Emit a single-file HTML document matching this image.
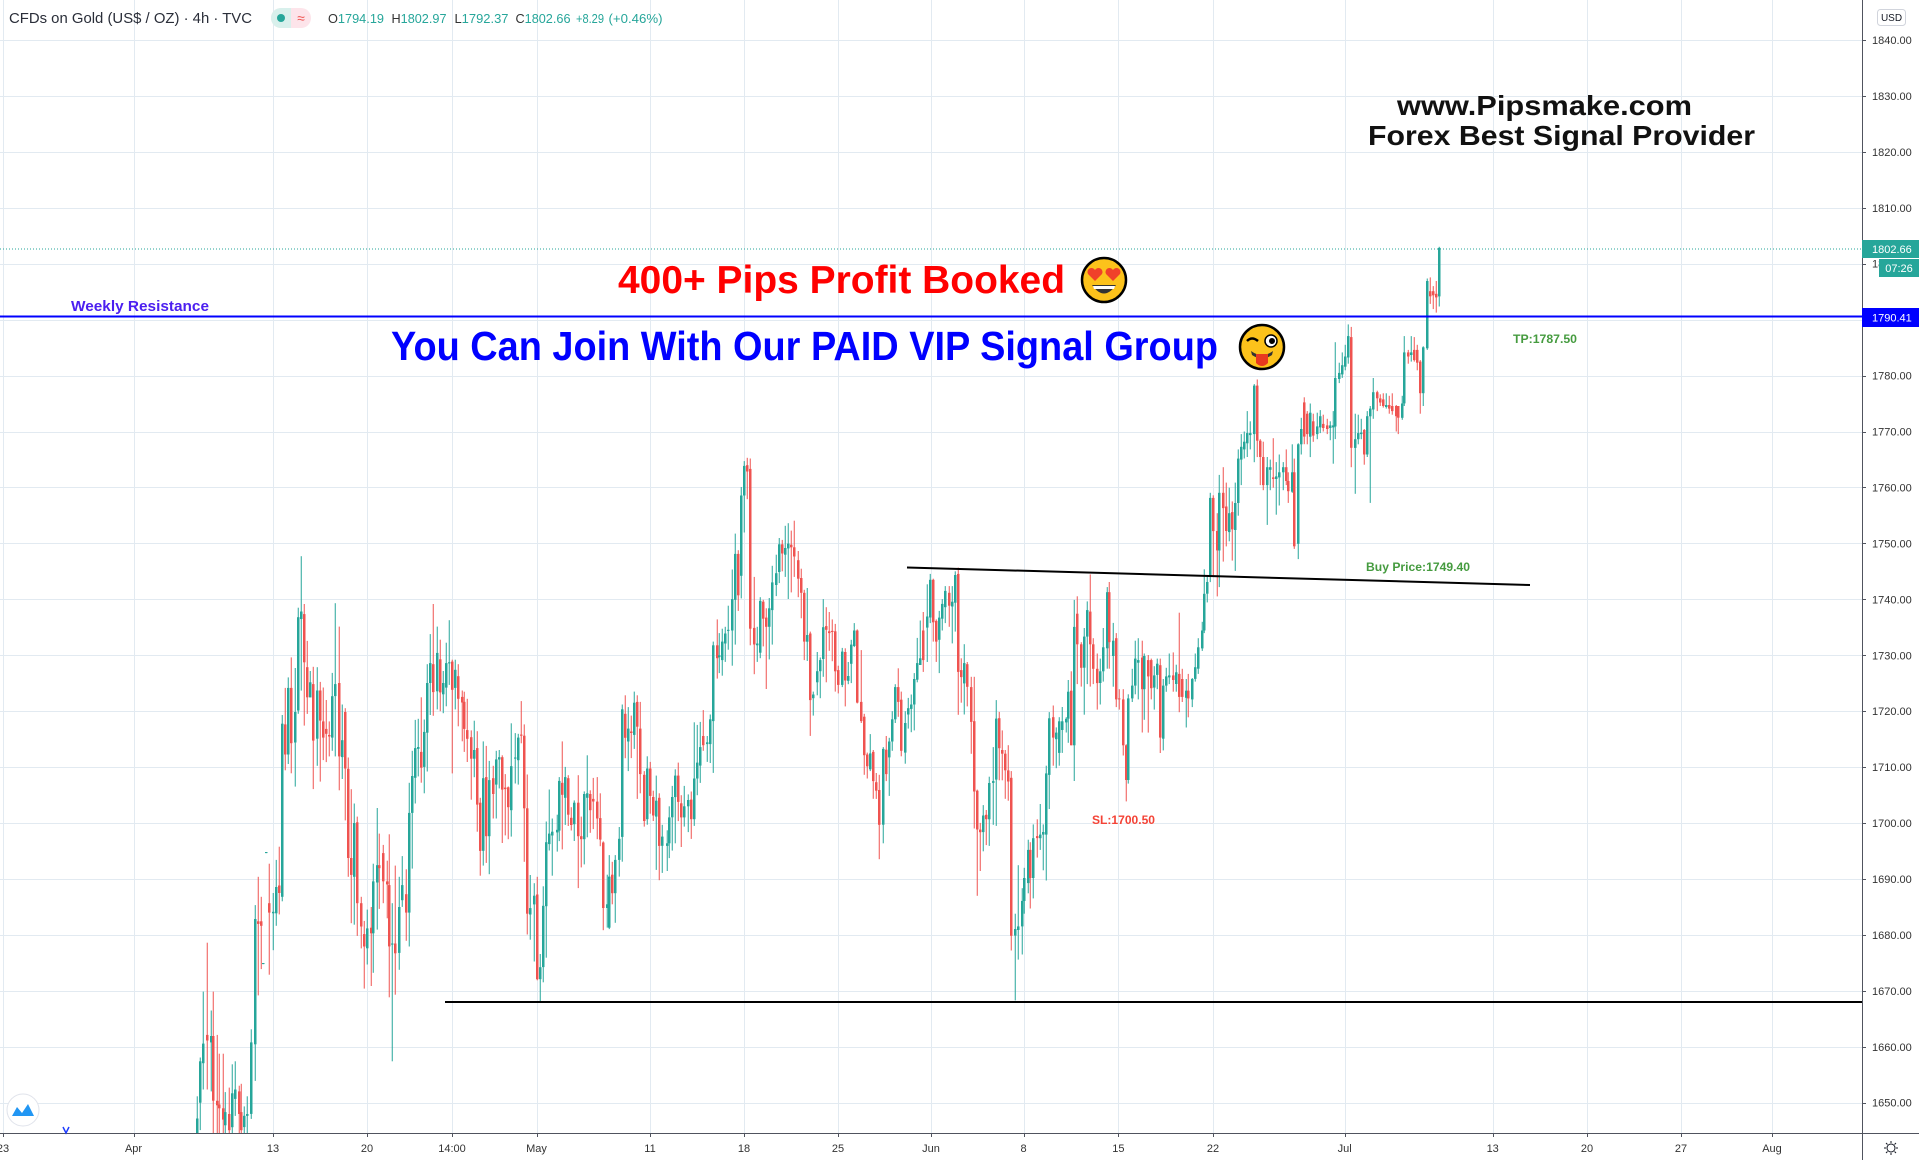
<!DOCTYPE html>
<html><head><meta charset="utf-8">
<style>
html,body{margin:0;padding:0;background:#fff;}
body{width:1919px;height:1160px;overflow:hidden;}
svg{display:block;}
text{font-family:"Liberation Sans",Arial,sans-serif;}
</style></head>
<body>
<svg id="chart" width="1919" height="1160" viewBox="0 0 1919 1160">
<rect x="0" y="0" width="1919" height="1160" fill="#fff"/>
<g id="grid" stroke="#e2eaf1" stroke-width="1"></g>
<defs><clipPath id="pane"><rect x="0" y="0" width="1862" height="1133"/></clipPath></defs>
<g id="candles" clip-path="url(#pane)"></g>

<!-- lines -->
<line x1="0" y1="249" x2="1862" y2="249" stroke="#26a69a" stroke-width="1" stroke-dasharray="1,2"/>
<line x1="0" y1="316.5" x2="1862" y2="316.5" stroke="#0000ff" stroke-width="2"/>
<line x1="445" y1="1002" x2="1862" y2="1002" stroke="#000" stroke-width="2"/>
<line x1="907" y1="567.5" x2="1530" y2="585" stroke="#000" stroke-width="2"/>

<!-- overlay texts -->
<text x="71" y="311" font-size="15" font-weight="bold" fill="#4c1ff0" textLength="138" lengthAdjust="spacingAndGlyphs">Weekly Resistance</text>
<text x="618" y="293" font-size="39" font-weight="bold" fill="#ff0000" textLength="447" lengthAdjust="spacingAndGlyphs">400+ Pips Profit Booked</text>
<text x="391" y="360" font-size="41" font-weight="bold" fill="#0000ff" textLength="827" lengthAdjust="spacingAndGlyphs">You Can Join With Our PAID VIP Signal Group</text>
<text x="1397" y="115" font-size="28" font-weight="bold" fill="#111" textLength="295" lengthAdjust="spacingAndGlyphs">www.Pipsmake.com</text>
<text x="1368" y="145" font-size="28" font-weight="bold" fill="#111" textLength="387" lengthAdjust="spacingAndGlyphs">Forex Best Signal Provider</text>
<text x="1513" y="343" font-size="12" font-weight="bold" fill="#459b3f" textLength="64" lengthAdjust="spacingAndGlyphs">TP:1787.50</text>
<text x="1366" y="571" font-size="12" font-weight="bold" fill="#459b3f" textLength="104" lengthAdjust="spacingAndGlyphs">Buy Price:1749.40</text>
<text x="1092" y="824" font-size="12" font-weight="bold" fill="#f44336" textLength="63" lengthAdjust="spacingAndGlyphs">SL:1700.50</text>

<!-- emoji heart eyes -->
<g transform="translate(1104,280)">
<circle r="22" fill="#fcc21b" stroke="#000" stroke-width="2.5"/>
<path d="M-9,1 L-16,-6 A3.8,3.8 0 0 1 -9,-10 A3.8,3.8 0 0 1 -2,-6 Z" fill="#f0412a"/>
<path d="M9,1 L2,-6 A3.8,3.8 0 0 1 9,-10 A3.8,3.8 0 0 1 16,-6 Z" fill="#f0412a"/>
<path d="M-12,5 Q0,22 12,5 Z" fill="#333"/>
<path d="M-11,6 L11,6 L10,9 L-10,9 Z" fill="#fff"/>
</g>
<!-- emoji wink tongue -->
<g transform="translate(1262,347)">
<circle r="22" fill="#fcc21b" stroke="#000" stroke-width="2.5"/>
<path d="M-15,-6 Q-10,-11 -4,-6" fill="none" stroke="#000" stroke-width="2.5"/>
<circle cx="9" cy="-6" r="6" fill="#fff" stroke="#000" stroke-width="1.5"/>
<circle cx="10" cy="-6" r="3" fill="#000"/>
<path d="M-11,4 Q0,12 11,4 L10,8 Q0,15 -10,8 Z" fill="#333"/>
<path d="M-6,7 L6,7 L6,16 Q0,22 -6,16 Z" fill="#e8391f"/>
</g>

<!-- header -->
<text x="9" y="23" font-size="14.5" fill="#2a2e39" textLength="243" lengthAdjust="spacingAndGlyphs">CFDs on Gold (US$ / OZ) · 4h · TVC</text>
<rect x="271" y="8" width="40" height="20" rx="10" fill="#fde4ea"/>
<path d="M281,8 L291,8 L291,28 L281,28 A10,10 0 0 1 281,8 Z" fill="#d8f0ec"/>
<circle cx="281" cy="18" r="4" fill="#26a69a"/>
<text x="301" y="23" font-size="14" fill="#ef5350" text-anchor="middle">≈</text>
<g font-size="12.5">
<text x="328" y="23" fill="#26a69a" textLength="56" lengthAdjust="spacingAndGlyphs"><tspan fill="#333">O</tspan>1794.19</text>
<text x="391.5" y="23" fill="#26a69a" textLength="55" lengthAdjust="spacingAndGlyphs"><tspan fill="#333">H</tspan>1802.97</text>
<text x="454.5" y="23" fill="#26a69a" textLength="54" lengthAdjust="spacingAndGlyphs"><tspan fill="#333">L</tspan>1792.37</text>
<text x="515.5" y="23" fill="#26a69a" textLength="55" lengthAdjust="spacingAndGlyphs"><tspan fill="#333">C</tspan>1802.66</text>
<text x="576" y="23" fill="#26a69a" textLength="28" lengthAdjust="spacingAndGlyphs">+8.29</text>
<text x="608.5" y="23" fill="#26a69a" textLength="54" lengthAdjust="spacingAndGlyphs">(+0.46%)</text>
</g>

<!-- axes -->
<rect x="1863" y="0" width="56" height="1160" fill="#fff"/>
<rect x="0" y="1134" width="1862" height="26" fill="#fff"/>
<line x1="1862.5" y1="0" x2="1862.5" y2="1160" stroke="#50535e" stroke-width="1"/>
<line x1="0" y1="1133.5" x2="1919" y2="1133.5" stroke="#50535e" stroke-width="1"/>
<g id="paxis"></g>
<g id="taxis"></g>

<!-- price tags -->
<rect x="1862" y="240" width="57" height="18" fill="#26a69a"/>
<text x="1872" y="253" font-size="11" fill="#fff">1802.66</text>
<rect x="1879" y="259" width="40" height="18" fill="#26a69a"/>
<text x="1899" y="272" font-size="11" fill="#fff" text-anchor="middle">07:26</text>
<rect x="1862" y="308" width="57" height="19" fill="#0000ff"/>
<text x="1872" y="321.5" font-size="11" fill="#fff">1790.41</text>

<!-- USD box -->
<rect x="1877.5" y="9.5" width="28" height="16" rx="3" fill="#fff" stroke="#d1d4dc"/>
<text x="1891.5" y="21" font-size="10" fill="#131722" text-anchor="middle">USD</text>

<!-- gear -->
<g transform="translate(1891,1148)" stroke="#131722" stroke-width="1" fill="none">
<circle r="4"/>
<line x1="0" y1="-7" x2="0" y2="-5"/><line x1="0" y1="5" x2="0" y2="7"/>
<line x1="-7" y1="0" x2="-5" y2="0"/><line x1="5" y1="0" x2="7" y2="0"/>
<line x1="-5" y1="-5" x2="-3.5" y2="-3.5"/><line x1="3.5" y1="3.5" x2="5" y2="5"/>
<line x1="5" y1="-5" x2="3.5" y2="-3.5"/><line x1="-3.5" y1="3.5" x2="-5" y2="5"/>
</g>

<!-- bottom-left icon -->
<circle cx="23" cy="1110" r="16" fill="#fff" stroke="#e0e3eb"/>
<path d="M12,1116 L17,1107 L22,1113 L28,1104 L34,1116 Z" fill="#2196f3"/>
<path d="M63,1127 L66,1133 L69,1127" fill="none" stroke="#1e3cff" stroke-width="1.5"/>
</svg>

<script>
(function(){
var grid=[],i,y,x;
for(i=0;i<=19;i++){y=40+i*55.933;grid.push('<line x1="0" y1="'+(Math.round(y)+0.5)+'" x2="1862" y2="'+(Math.round(y)+0.5)+'"/>');}
var T=[[3,'23'],[133.5,'Apr'],[273,'13'],[367,'20'],[452,'14:00'],[536.5,'May'],[650,'11'],[744,'18'],[838,'25'],[931,'Jun'],[1023.6,'8'],[1118.4,'15'],[1213,'22'],[1344.7,'Jul'],[1492.7,'13'],[1587,'20'],[1681,'27'],[1772,'Aug']];
T.forEach(function(t){x=Math.round(t[0])+0.5;grid.push('<line x1="'+x+'" y1="0" x2="'+x+'" y2="1133"/>');});
document.getElementById('grid').innerHTML=grid.join('');

var p=[];
for(i=0;i<=19;i++){var pr=1840-i*10;y=40+i*55.933;
p.push('<line x1="1862" y1="'+(Math.round(y)+0.5)+'" x2="1866" y2="'+(Math.round(y)+0.5)+'" stroke="#50535e"/>');
p.push('<text x="1872" y="'+(y+4).toFixed(1)+'" font-size="11" fill="#333">'+pr+'.00</text>');}
document.getElementById('paxis').innerHTML=p.join('');
var t=[];
T.forEach(function(a){x=Math.round(a[0])+0.5;
t.push('<line x1="'+x+'" y1="1133" x2="'+x+'" y2="1137" stroke="#50535e"/>');
t.push('<text x="'+a[0]+'" y="1152" font-size="11" fill="#333" text-anchor="middle">'+a[1]+'</text>');});
document.getElementById('taxis').innerHTML=t.join('');

var A=[[50,1537,1580,1478,1580,1],[60,1385,1495,1375,1568,1],[70,1338,1390,1200,1460,1],[82,1315,1330,1070,1460,0],[92,1318,1335,1250,1465,1],[100,1318,1490,1200,1580,0],[110,1490,1502,1315,1580,0],[118,1500,1510,1365,1580,0],[128,1510,1540,1365,1580,0],[136,1520,1555,1467,1580,1],[148,1525,1568,1455,1580,0],[156,1470,1560,1393,1580,1],[166,1460,1485,1385,1530,1],[176,1465,1525,1450,1580,0],[184,1520,1568,1445,1580,0],[192,1530,1560,1505,1580,1],[202,1525,1530,1478,1580,1],[214,1335,1525,1300,1538,1],[224,1007,1340,970,1437,1],[234,1013,1020,895,1210,0],[242,1013,1025,948,1140,0],[250,1124,1127,1124,1127,1],[258,829,832,829,832,1],[268,965,990,860,1155,0],[280,988,992,938,1090,1],[288,922,992,850,1025,1],[298,918,938,815,995,0],[307,488,948,465,960,1],[316,490,570,393,612,0],[325,393,570,365,595,1],[334,393,540,312,620,0],[346,457,538,340,655,1],[355,205,453,180,462,1],[364,190,210,43,400,1],[373,197,325,170,493,0],[382,338,418,268,462,0],[391,378,418,348,398,1],[400,383,533,337,662,0],[410,400,528,338,600,1],[420,400,480,377,642,0],[430,482,525,392,585,0],[438,502,515,425,590,0],[448,518,522,482,575,0],[457,415,525,353,560,1],[466,383,415,168,575,1],[478,380,575,230,665,0],[487,532,577,437,635,1],[496,457,607,447,745,0],[505,608,845,578,895,0],[514,845,890,662,1018,0],[523,752,895,700,1022,1],[532,750,965,735,1052,0],[544,965,1027,948,1085,0],[553,1047,1080,1012,1192,0],[562,1032,1085,982,1128,1],[572,1030,1045,975,1185,0],[580,907,1045,860,1150,1],[590,864,910,712,1035,1],[598,864,872,780,980,0],[610,832,907,810,965,0],[620,907,915,852,1005,0],[628,917,1080,782,1215,0],[637,1072,1075,965,1385,1],[646,1072,1098,865,1208,0],[656,975,1097,895,1142,1],[665,917,957,840,975,1],[677,941,990,875,1065,0],[686,725,990,645,1080,1],[695,627,725,560,873,1],[704,553,632,478,700,1],[713,550,555,475,628,1],[722,563,605,418,645,0],[731,510,603,477,673,1],[742,380,512,330,615,1],[751,327,380,250,465,1],[760,330,404,170,467,0],[770,300,402,230,450,1],[779,317,405,265,455,0],[788,380,410,348,460,1],[797,327,392,273,442,1],[808,325,328,213,385,1],[817,323,398,318,620,0],[826,345,393,318,450,1],[835,362,422,330,495,0],[845,417,432,400,535,0],[853,430,502,403,563,0],[862,505,528,422,590,0],[874,524,581,506,690,0],[883,558,581,480,630,1],[892,553,703,508,775,0],[901,698,826,685,892,0],[910,633,826,535,865,1],[919,630,787,547,858,0],[928,638,787,587,888,1],[940,633,675,600,740,0],[949,583,650,560,740,1],[958,577,583,558,660,1],[967,577,663,572,805,0],[976,658,662,622,785,0],[985,657,710,655,795,0],[994,601,718,487,788,1],[1006,578,581,513,647,1],[1015,525,585,515,650,1],[1024,517,520,428,540,0],[1033,520,713,490,855,0],[1042,713,993,623,1048,0],[1051,978,995,890,1062,1],[1062,945,968,912,1120,1],[1072,942,1167,895,1170,0],[1081,1135,1167,1100,1227,1],[1090,972,1135,920,1175,1],[1099,803,973,748,1110,1],[1108,780,808,663,825,1],[1117,775,785,740,892,1],[1130,770,777,730,828,1],[1138,640,772,630,800,1],[1147,645,677,535,822,0],[1156,630,685,603,757,1],[1165,633,730,625,760,0],[1174,738,757,710,772,0],[1183,698,755,692,800,1],[1195,698,787,625,925,0],[1204,787,795,735,870,0],[1213,675,795,668,862,1],[1222,673,685,572,790,1],[1231,675,718,665,778,0],[1240,688,695,632,768,0],[1250,695,740,630,795,0]];
var B=[[120,1022,1080,955,1098,0],[130,1088,1265,1085,1325,0],[140,1255,1265,1175,1318,1],[148,1180,1318,1122,1322,1],[157,1175,1225,1140,1255,0],[166,1135,1225,1122,1305,1],[176,1078,1135,1046,1180,1],[186,728,1073,715,1140,1],[196,740,805,690,860,0],[205,780,815,722,895,1],[214,788,792,745,860,0],[223,710,797,680,835,1],[232,708,775,690,970,0],[241,780,903,708,955,0],[252,905,1030,895,1045,0],[262,888,1025,855,1040,1],[271,888,962,870,1010,0],[280,965,1015,948,1030,0],[289,975,1018,907,1162,1],[298,967,1097,955,1190,0],[307,1072,1097,1040,1170,1],[320,1090,1097,1055,1165,1],[328,1020,1090,990,1130,1],[337,965,1020,935,1110,1],[346,907,965,890,1090,1],[355,907,978,872,1030,0],[364,982,1020,960,1100,0],[373,990,1020,935,1045,1],[385,973,990,958,1060,1],[394,972,1025,950,1078,0],[403,915,1025,763,1043,1],[412,872,915,770,960,1],[421,830,880,762,927,1],[430,800,825,730,840,0],[440,817,822,800,870,1],[451,755,822,742,873,1],[460,555,760,545,900,1],[470,555,590,485,645,0],[478,582,587,522,630,1],[487,545,595,510,637,1],[496,523,550,505,600,1],[505,513,516,448,567,1],[517,430,515,350,610,1],[526,308,432,253,553,1],[535,308,420,298,462,0],[544,150,367,127,428,1],[553,70,150,57,250,1],[562,68,85,48,160,0],[571,78,510,50,555,0],[583,508,553,370,633,0],[592,550,555,505,600,1],[601,435,575,425,590,1],[610,437,483,432,558,0],[619,480,505,455,673,0],[628,455,505,427,593,1],[637,385,460,340,553,1],[649,360,392,310,422,1],[658,282,357,265,387,1],[667,282,307,270,355,0],[676,292,310,232,370,1],[685,280,293,225,430,1],[694,283,290,245,412,0],[703,290,315,218,370,0],[715,325,375,300,425,0],[724,373,413,348,482,0],[733,413,545,405,595,0],[742,527,545,400,597,1],[751,523,703,518,800,0],[760,688,698,680,745,1],[770,625,655,573,690,1],[781,595,625,588,698,1],[790,506,592,430,640,1],[799,503,513,452,655,0],[808,517,522,465,570,0],[817,516,519,485,598,0],[826,517,625,497,680,0],[835,622,662,610,685,0],[846,572,662,562,668,1],[855,573,650,563,720,0],[864,638,651,600,660,1],[873,553,605,540,657,1],[882,515,557,495,560,1],[891,515,710,512,712,0],[903,708,760,568,765,0],[912,748,852,740,905,0],[921,850,882,845,915,0],[930,847,890,795,895,1],[939,843,922,838,970,0],[948,925,948,900,970,0],[957,946,1040,905,1133,0],[969,835,1040,830,1090,1],[978,837,903,800,922,0],[987,815,858,805,962,1],[996,755,815,733,840,1],[1005,668,755,660,765,1],[1014,668,708,617,748,0],[1023,702,840,680,855,0],[1035,765,845,733,875,1],[1044,725,742,697,780,1],[1053,715,727,688,790,1],[1062,646,715,630,785,1],[1071,603,648,535,655,1],[1080,590,608,488,598,1],[1089,515,595,465,627,0],[1101,477,507,390,600,1],[1110,378,480,362,495,1],[1119,378,493,375,545,0],[1128,489,545,485,600,0],[1137,480,540,462,630,1],[1146,443,483,430,515,1],[1155,408,452,395,495,1],[1167,413,448,395,505,0],[1176,437,450,395,550,1],[1185,365,440,355,518,1],[1194,362,627,345,743,0],[1203,622,641,590,710,0],[1212,603,658,552,742,1],[1221,606,667,600,720,0],[1233,668,762,640,848,0],[1242,760,950,640,1050,0],[1251,948,1053,945,1232,0],[1260,1053,1060,1035,1165,0],[1269,1015,1060,987,1112,1],[1278,1013,1025,1000,1095,0],[1287,927,1025,910,1097,1],[1299,922,927,830,1040,1],[1308,753,918,703,1043,1],[1317,752,833,735,920,0],[1326,838,848,785,920,0],[1335,848,893,838,970,0],[1344,893,923,825,975,0],[1353,913,1340,895,1380,0]];
var C=[[45,1370,1383,1340,1510,1],[55,1365,1372,1245,1430,1],[65,1315,1365,1290,1420,1],[73,1270,1315,1250,1340,1],[83,1215,1280,1195,1300,1],[91,1215,1270,1200,1330,0],[100,1192,1270,1165,1310,1],[110,1188,1192,1155,1230,0],[120,1185,1192,1125,1215,1],[130,1180,1185,1165,1255,1],[138,1065,1185,1050,1275,1],[148,957,1068,945,1135,1],[158,955,995,932,1050,0],[167,985,998,975,1055,1],[177,963,1025,955,1050,1],[187,963,980,935,1025,1],[197,958,965,955,985,1],[205,905,958,882,1005,1],[213,903,1010,865,1010,0],[223,778,1010,725,1080,1],[232,752,812,718,890,0],[242,812,858,808,895,0],[252,797,858,780,950,1],[262,745,797,728,890,1],[270,748,812,675,895,0],[280,812,860,800,890,0],[290,860,888,830,940,0],[300,865,888,840,930,1],[310,818,865,780,885,1],[320,710,820,700,860,1],[328,710,808,690,860,0],[338,805,835,770,895,1],[348,800,920,790,935,0],[358,918,920,900,940,0],[368,920,1010,900,1030,0],[377,1010,1078,1008,1120,0],[385,918,1078,910,1085,1],[395,893,918,860,925,1],[405,840,893,805,910,1],[415,843,848,800,920,1],[425,838,900,805,985,0],[433,835,900,830,960,1],[443,843,875,833,985,0],[453,843,898,840,920,0],[462,873,897,855,940,1],[472,850,872,840,900,1],[480,853,995,840,1025,0],[490,893,997,880,1020,1],[498,875,893,858,905,1],[508,873,877,830,890,1],[518,873,882,828,905,0],[528,867,890,852,905,1],[538,870,915,750,945,0],[547,880,915,860,925,0],[557,903,917,880,975,1],[565,903,918,870,955,0],[575,880,920,878,935,1],[585,857,880,830,885,1],[595,818,860,800,870,1],[605,785,820,768,825,1],[612,713,785,665,790,1],[620,690,713,678,730,1],[630,525,680,515,690,1],[640,525,590,520,680,0],[650,590,628,555,718,0],[658,515,628,480,700,1],[668,515,545,465,650,0],[678,542,590,495,620,0],[686,555,592,505,610,1],[696,553,587,532,648,0],[706,535,588,495,668,1],[715,448,535,430,560,1],[723,425,450,400,500,1],[733,415,430,395,448,1],[741,398,418,355,445,1],[751,398,402,375,430,1],[762,305,400,302,455,1],[771,305,413,293,445,0],[780,413,445,410,500,0],[790,445,500,415,510,0],[800,465,500,445,578,1],[809,465,470,450,510,1],[819,485,488,408,505,0],[828,483,488,455,558,1],[838,475,485,440,540,1],[848,465,475,455,510,1],[857,465,492,430,500,0],[865,492,512,475,535,0],[875,475,513,420,515,1],[883,475,620,448,625,0],[893,420,615,418,645,1],[903,390,420,368,440,1],[913,338,405,328,420,0],[920,360,400,355,420,0],[930,358,405,340,445,1],[940,375,403,360,415,0],[950,385,400,358,410,1],[960,365,387,353,398,1],[970,380,388,362,395,0],[980,383,390,370,400,0],[990,383,388,375,412,1],[998,383,387,355,458,1],[1006,290,385,220,410,1],[1016,280,292,260,300,1],[1026,265,283,240,290,1],[1035,248,268,225,275,1],[1045,208,250,185,262,1],[1054,210,427,190,465,0],[1064,410,427,360,517,1],[1074,398,410,362,420,1],[1083,397,400,370,410,1],[1093,392,440,390,460,0],[1102,365,440,355,445,1],[1110,350,365,345,535,1],[1120,318,352,290,370,1],[1130,318,330,315,355,0],[1140,330,338,322,345,0],[1148,332,345,320,348,0],[1157,343,347,320,350,1],[1167,343,350,325,360,0],[1177,345,355,320,362,0],[1187,345,365,343,395,0],[1195,345,368,345,400,0],[1205,340,368,325,372,1],[1213,240,340,208,345,1],[1223,240,248,235,262,0],[1232,240,245,208,258,1],[1242,235,255,210,258,0],[1252,235,260,225,275,0],[1260,258,320,255,360,0],[1270,230,320,228,345,1],[1280,100,232,95,235,1],[1289,120,130,93,145,0],[1298,120,128,110,155,0],[1308,125,132,100,162,0],[1318,35,130,33,150,1]];
var out=[];
function draw(arr,ox,oy,sy){
 arr.forEach(function(c){
  var x=ox+c[0]/3,t=oy+c[1]/sy,b=oy+c[2]/sy,wt=oy+Math.min(c[3],c[1])/sy,wb=oy+Math.max(c[4],c[2])/sy;
  var col=c[5]?'#26a69a':'#ef5350';
  var bx=Math.round(x)-1;
  out.push('<rect x="'+(bx+0.75)+'" y="'+wt.toFixed(1)+'" width="1" height="'+Math.max(wb-wt,1).toFixed(1)+'" fill="'+col+'"/>');
  out.push('<rect x="'+bx+'" y="'+t.toFixed(1)+'" width="2.5" height="'+Math.max(b-t,1).toFixed(1)+'" fill="'+col+'"/>');
 });
}
draw(A,180,540,2.657);
draw(B,560,440,2.703);
draw(C,1000,230,1.96);
document.getElementById('candles').innerHTML=out.join('');
})();
</script>
</body></html>
